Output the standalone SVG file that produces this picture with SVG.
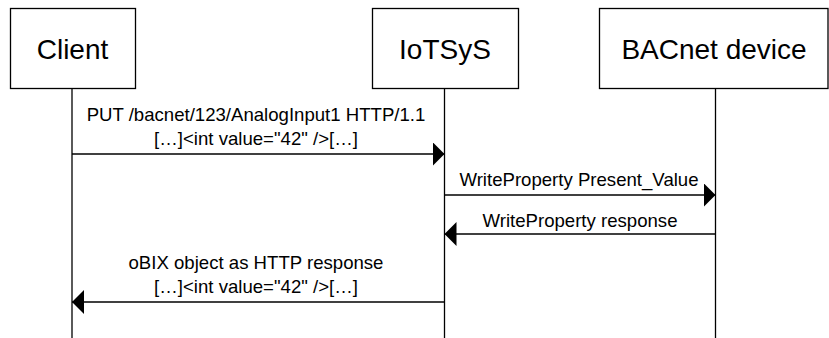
<svg xmlns="http://www.w3.org/2000/svg" width="829" height="338" viewBox="0 0 829 338">
<style>
.box{fill:#fff;stroke:#000;stroke-width:1.3}
.life{stroke:#000;stroke-width:1.3;fill:none}
.msg{stroke:#000;stroke-width:1.3;fill:none}
.title{font-family:"Liberation Sans",Arial,sans-serif;font-size:28px;fill:#000;text-anchor:middle}
.lbl{font-family:"Liberation Sans",Arial,sans-serif;font-size:18.6px;fill:#000;text-anchor:middle}
</style>
<defs>
<marker id="ah" viewBox="0 0 12 24" refX="12" refY="12" markerWidth="12" markerHeight="24" markerUnits="userSpaceOnUse" orient="auto">
<path d="M0,0 L12,12 L0,24 Z" fill="#000"/>
</marker>
</defs>
<rect width="829" height="338" fill="#fff"/>
<g id="client">
<rect class="box" x="10.5" y="8.5" width="125" height="80"/>
<text class="title" x="72.5" y="59">Client</text>
<line class="life" x1="72" y1="88.5" x2="72" y2="338"/>
</g>
<g id="iotsys">
<rect class="box" x="372.5" y="8.5" width="146" height="80"/>
<text class="title" x="445" y="59">IoTSyS</text>
<line class="life" x1="444.5" y1="88.5" x2="444.5" y2="338"/>
</g>
<g id="bacnet">
<rect class="box" x="599.5" y="8.5" width="228.5" height="80"/>
<text class="title" x="714" y="59">BACnet device</text>
<line class="life" x1="715.5" y1="88.5" x2="715.5" y2="338"/>
</g>
<g id="connectors">
<line class="msg" x1="72" y1="154" x2="444.5" y2="154" marker-end="url(#ah)"/>
<text class="lbl" x="256" y="121">PUT /bacnet/123/AnalogInput1 HTTP/1.1</text>
<text class="lbl" x="256" y="145">[…]&lt;int value="42" /&gt;[…]</text>
<line class="msg" x1="444.5" y1="195" x2="715.5" y2="195" marker-end="url(#ah)"/>
<text class="lbl" x="579" y="186">WriteProperty Present_Value</text>
<line class="msg" x1="715.5" y1="234" x2="444.5" y2="234" marker-end="url(#ah)"/>
<text class="lbl" x="580" y="227">WriteProperty response</text>
<line class="msg" x1="444.5" y1="302" x2="72" y2="302" marker-end="url(#ah)"/>
<text class="lbl" x="256" y="269">oBIX object as HTTP response</text>
<text class="lbl" x="256" y="293">[…]&lt;int value="42" /&gt;[…]</text>
</g>
</svg>
